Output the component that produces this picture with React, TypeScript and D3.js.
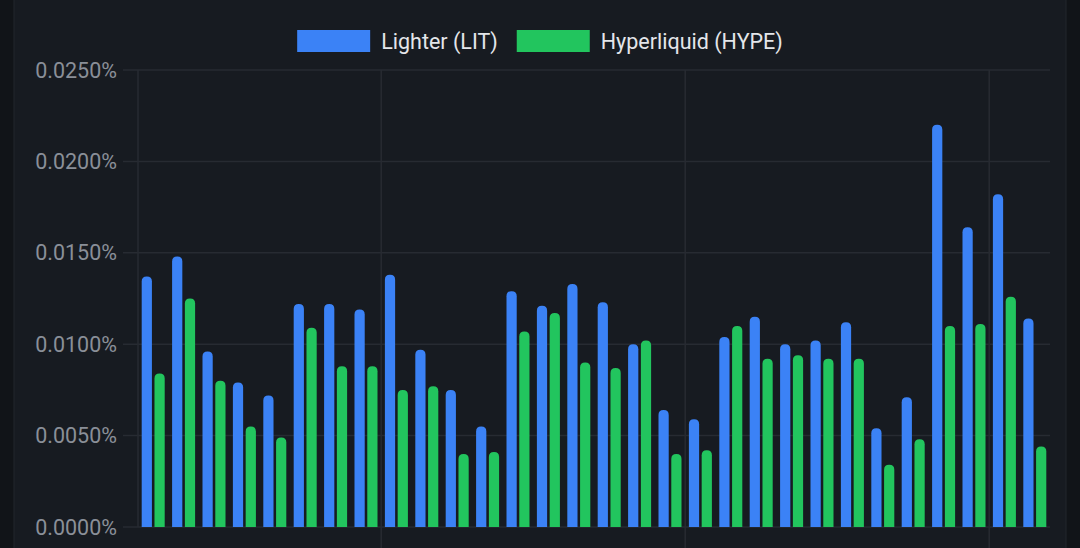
import { useEffect, useRef } from "react";
import * as d3 from "d3";

// 30 daily funding-rate samples, in percent
const categories = d3.range(1, 31).map((d) => `D${d}`);
const seriesNames = ["Lighter (LIT)", "Hyperliquid (HYPE)"];
const seriesColors = ["#3b82f6", "#22c55e"];
const litValues = [
  0.0137, 0.0148, 0.0096, 0.0079, 0.0072, 0.0122, 0.0122, 0.0119, 0.0138, 0.0097,
  0.0075, 0.0055, 0.0129, 0.0121, 0.0133, 0.0123, 0.01, 0.0064, 0.0059, 0.0104,
  0.0115, 0.01, 0.0102, 0.0112, 0.0054, 0.0071, 0.022, 0.0164, 0.0182, 0.0114,
];
const hypeValues = [
  0.0084, 0.0125, 0.008, 0.0055, 0.0049, 0.0109, 0.0088, 0.0088, 0.0075, 0.0077,
  0.004, 0.0041, 0.0107, 0.0117, 0.009, 0.0087, 0.0102, 0.004, 0.0042, 0.011,
  0.0092, 0.0094, 0.0092, 0.0092, 0.0034, 0.0048, 0.011, 0.0111, 0.0126, 0.0044,
];
const yTicks = [0, 0.005, 0.01, 0.015, 0.02, 0.025];
// x grid lines fall between these category indices (labels sit below the crop)
const xTickIndex = [8, 18, 28];

const W = 1080;
const H = 548;

export default function App() {
  const svgRef = useRef<SVGSVGElement | null>(null);

  useEffect(() => {
    if (!svgRef.current) return;
    const svg = d3.select(svgRef.current);
    svg.selectAll("*").remove();

    const margin = { top: 70, right: 30, bottom: 21, left: 138 };
    const innerW = W - margin.left - margin.right;
    const innerH = H - margin.top - margin.bottom;

    // page and card
    svg.append("rect").attr("width", W).attr("height", H).attr("fill", "#111418");
    svg
      .append("rect")
      .attr("x", 14)
      .attr("y", -2)
      .attr("width", 1052)
      .attr("height", H + 4)
      .attr("fill", "#171b21")
      .attr("stroke", "#22262d")
      .attr("stroke-width", 1);

    const g = svg.append("g").attr("transform", `translate(${margin.left},${margin.top})`);

    const pad = 0.243;
    const x = d3.scaleBand<string>().domain(categories).range([0, innerW]).paddingInner(pad).paddingOuter(pad / 2);
    const xs = d3.scaleBand<number>().domain([0, 1]).range([0, x.bandwidth()]).paddingInner(0.2);
    const y = d3.scaleLinear().domain([0, 0.025]).range([innerH, 0]);

    // horizontal grid + y labels
    yTicks.forEach((t) => {
      g.append("line")
        .attr("x1", -15)
        .attr("x2", innerW)
        .attr("y1", y(t))
        .attr("y2", y(t))
        .attr("stroke", "#272b32")
        .attr("stroke-width", 1.5);
      g.append("text")
        .attr("x", -21)
        .attr("y", y(t))
        .attr("dy", "0.35em")
        .attr("text-anchor", "end")
        .attr("fill", "#8a8f98")
        .style("font-family", "Roboto, sans-serif")
        .style("font-size", "21.5px")
        .text(`${t.toFixed(4)}%`);
    });

    // vertical grid
    const boundary = (i: number) => (x(categories[i]) ?? 0) - (x.step() * pad) / 2;
    g.append("line")
      .attr("x1", boundary(0))
      .attr("x2", boundary(0))
      .attr("y1", 0)
      .attr("y2", innerH)
      .attr("stroke", "#272b32")
      .attr("stroke-width", 1.5);
    xTickIndex.forEach((i) => {
      g.append("line")
        .attr("x1", boundary(i))
        .attr("x2", boundary(i))
        .attr("y1", 0)
        .attr("y2", innerH + 40)
        .attr("stroke", "#272b32")
        .attr("stroke-width", 1.5);
    });

    // bars with rounded tops
    const r = 5;
    const barPath = (bx: number, by: number, bw: number, bh: number) => {
      const rr = Math.min(r, bh, bw / 2);
      return `M${bx},${by + bh}V${by + rr}Q${bx},${by} ${bx + rr},${by}H${bx + bw - rr}Q${bx + bw},${by} ${bx + bw},${by + rr}V${by + bh}Z`;
    };
    [litValues, hypeValues].forEach((vals, s) => {
      g.append("g")
        .selectAll("path")
        .data(vals)
        .join("path")
        .attr("d", (d, i) => barPath((x(categories[i]) ?? 0) + (xs(s) ?? 0), y(d), xs.bandwidth(), innerH - y(d)))
        .attr("fill", seriesColors[s]);
    });

    // legend, centred on the card
    const legend = svg.append("g");
    const boxW = 73;
    const boxH = 22;
    let cx = 0;
    seriesNames.forEach((name, i) => {
      const item = legend.append("g").attr("transform", `translate(${cx},0)`);
      item.append("rect").attr("width", boxW).attr("height", boxH).attr("fill", seriesColors[i]);
      const txt = item
        .append("text")
        .attr("x", boxW + 11)
        .attr("y", boxH / 2)
        .attr("dy", "0.35em")
        .attr("fill", "#e4e6ea")
        .style("font-family", "Roboto, sans-serif")
        .style("font-size", "21.5px")
        .text(name);
      const tw = (txt.node() as SVGTextElement).getComputedTextLength();
      cx += boxW + 11 + tw + 19;
    });
    const total = cx - 19;
    legend.attr("transform", `translate(${540 - total / 2},30)`);
  }, []);

  return (
    <div style={{ position: "absolute", left: 0, top: 0, width: W, height: H, overflow: "hidden" }}>
      <svg ref={svgRef} width={W} height={H} style={{ display: "block" }} />
    </div>
  );
}
